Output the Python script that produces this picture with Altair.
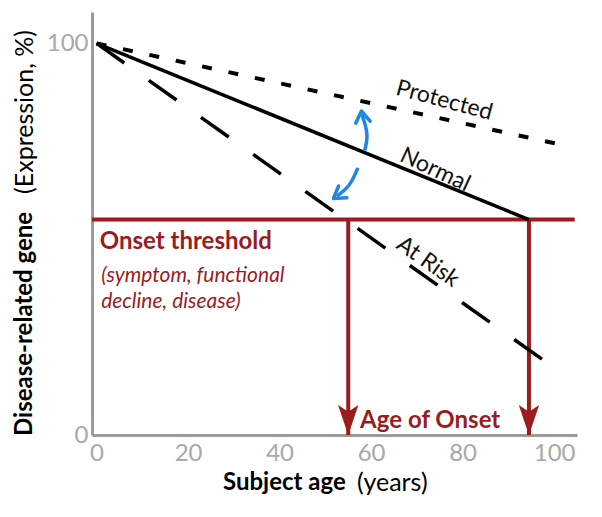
import altair as alt
import pandas as pd

# ---------------- data ----------------
x_ticks = [0, 20, 40, 60, 80, 100]
y_ticks = [0, 100]

protected_age = [0, 102]
protected_val = [100, 74]
normal_age = [0, 94.5]
normal_val = [100, 55]
atrisk_age = [0, 102]
atrisk_val = [100, 15.5]

threshold_val = 55
threshold_span = [-1, 104.5]
onset_ages = [55, 94.5]

blue_up_age = [58.6, 59.3, 58.8, 58.0]
blue_up_val = [72.6, 76.0, 79.1, 81.7]
blue_dn_age = [57.1, 55.8, 54.3, 52.5]
blue_dn_val = [68.2, 64.6, 62.5, 61.0]
blue_head_age = [58.0, 52.5]
blue_head_val = [81.7, 61.0]
blue_head_dir = [352, 235]

series_labels = ["Protected", "Normal", "At Risk"]
series_label_age = [76.0, 74.0, 72.4]
series_label_val = [85.4, 67.7, 44.2]
series_label_angle = [15, 25, 35]

threshold_lines = ["Onset threshold", "(symptom, functional", "decline, disease)"]
threshold_text_val = [49.3, 40.6, 34.0]
onset_label = "Age of Onset"
onset_label_pos = [57.6, 3.6]

# ---------------- style ----------------
RED = "#9b1c1f"
BLUE = "#1e88e0"
GREY = "#a8a8a8"
AXIS_GREY = "#9a9a9a"
FONT = "Lato"

xs = alt.Scale(domain=[-1, 105], nice=False, zero=False)
ys = alt.Scale(domain=[0, 108], nice=False, zero=False)

X_AXIS = alt.Axis(values=x_ticks, title=None, grid=False, ticks=False,
                  domainColor=AXIS_GREY, domainWidth=3, labelColor=GREY,
                  labelFontSize=24, labelFont=FONT, labelPadding=6, labelFlush=False)
Y_AXIS = alt.Axis(values=y_ticks, title=None, grid=False, ticks=False,
                  domainColor=AXIS_GREY, domainWidth=3, labelColor=GREY,
                  labelFontSize=24, labelFont=FONT, labelPadding=4, labelFlush=False)


def df(a, v):
    return pd.DataFrame({"x": a, "y": v, "i": list(range(len(a)))})


def X():
    return alt.X("x:Q", scale=xs, axis=X_AXIS)


def Y():
    return alt.Y("y:Q", scale=ys, axis=Y_AXIS)


protected = alt.Chart(df(protected_age, protected_val)).mark_line(
    color="black", strokeWidth=4, strokeDash=[10, 17]
).encode(x=X(), y=Y(), order="i:Q")

normal = alt.Chart(df(normal_age, normal_val)).mark_line(
    color="black", strokeWidth=3.5
).encode(x=X(), y=Y(), order="i:Q")

atrisk = alt.Chart(df(atrisk_age, atrisk_val)).mark_line(
    color="black", strokeWidth=3.5, strokeDash=[34, 30]
).encode(x=X(), y=Y(), order="i:Q")

thr = alt.Chart(pd.DataFrame({"x": [threshold_span[0]], "x2": [threshold_span[1]],
                              "y": [threshold_val]})).mark_rule(
    color=RED, strokeWidth=4
).encode(x=X(), x2="x2:Q", y=Y())

onset_df = pd.DataFrame({"x": onset_ages, "y": [threshold_val] * 2, "y2": [0] * 2})
vlines = alt.Chart(onset_df).mark_rule(color=RED, strokeWidth=4).encode(
    x=X(), y=Y(), y2="y2:Q")

ARROW = "M0,1 L-0.68,-1 L0,-0.55 L0.68,-1 Z"
heads = alt.Chart(pd.DataFrame({"x": onset_ages, "y": [0, 0]})).mark_point(
    shape=ARROW, size=900, filled=True, color=RED, opacity=1, yOffset=-15
).encode(x=X(), y=Y())

blue_up = alt.Chart(df(blue_up_age, blue_up_val)).mark_line(
    color=BLUE, strokeWidth=3.5, interpolate="basis"
).encode(x=X(), y=Y(), order="i:Q")
blue_dn = alt.Chart(df(blue_dn_age, blue_dn_val)).mark_line(
    color=BLUE, strokeWidth=3.5, interpolate="basis"
).encode(x=X(), y=Y(), order="i:Q")

CHEV = "M-0.9,0.9 L0,-0.5 L0.9,0.9"
blue_heads = alt.Chart(pd.DataFrame({"x": blue_head_age, "y": blue_head_val,
                                     "a": blue_head_dir})).mark_point(
    shape=CHEV, size=260, filled=False, color=BLUE, strokeWidth=3.5, opacity=1,
    strokeCap="round", strokeJoin="round"
).encode(x=X(), y=Y(), angle=alt.Angle("a:Q", scale=None))

lbl_df = pd.DataFrame({"x": series_label_age, "y": series_label_val,
                       "t": series_labels, "a": series_label_angle})
labels = alt.Chart(lbl_df).mark_text(
    font=FONT, fontSize=23, color="#111111", align="center", baseline="middle"
).encode(x=X(), y=Y(), text="t:N", angle=alt.Angle("a:Q", scale=None))

thr_title = alt.Chart(pd.DataFrame({"x": [0.7], "y": [threshold_text_val[0]],
                                    "t": [threshold_lines[0]]})).mark_text(
    font=FONT, fontSize=24, fontWeight="bold", color=RED, align="left", baseline="middle"
).encode(x=X(), y=Y(), text="t:N")

thr_sub = alt.Chart(pd.DataFrame({"x": [1.0, 1.0], "y": threshold_text_val[1:],
                                  "t": threshold_lines[1:]})).mark_text(
    font=FONT, fontSize=21, fontStyle="italic", color=RED, align="left", baseline="middle"
).encode(x=X(), y=Y(), text="t:N")

onset_txt = alt.Chart(pd.DataFrame({"x": [onset_label_pos[0]], "y": [onset_label_pos[1]],
                                    "t": [onset_label]})).mark_text(
    font=FONT, fontSize=24, fontWeight="bold", color=RED, align="left", baseline="middle"
).encode(x=X(), y=Y(), text="t:N")

# axis titles (mixed weights) as text marks placed in the margins
ytitle_b = alt.Chart(pd.DataFrame({"t": ["Disease-related gene"]})).mark_text(
    font=FONT, fontSize=24, fontWeight="bold", color="black", angle=270,
    align="left", baseline="middle"
).encode(x=alt.value(-67), y=alt.value(424), text="t:N")
ytitle_r = alt.Chart(pd.DataFrame({"t": ["(Expression, %)"]})).mark_text(
    font=FONT, fontSize=25, color="black", angle=270,
    align="right", baseline="middle"
).encode(x=alt.value(-67), y=alt.value(18), text="t:N")
xtitle_b = alt.Chart(pd.DataFrame({"t": ["Subject age"]})).mark_text(
    font=FONT, fontSize=24, fontWeight="bold", color="black",
    align="left", baseline="middle"
).encode(x=alt.value(131), y=alt.value(471), text="t:N")
xtitle_r = alt.Chart(pd.DataFrame({"t": ["(years)"]})).mark_text(
    font=FONT, fontSize=25, color="black",
    align="left", baseline="middle"
).encode(x=alt.value(265), y=alt.value(471), text="t:N")

chart = alt.layer(
    thr, vlines, heads, protected, normal, atrisk, blue_up, blue_dn, blue_heads,
    labels, thr_title, thr_sub, onset_txt, ytitle_b, ytitle_r, xtitle_b, xtitle_r
).properties(
    width=485, height=423,
    padding={"left": 84, "top": 4, "right": 17, "bottom": 74},
    autosize=alt.AutoSizeParams(type="none"),
).configure_view(stroke=None)

chart.save("out.html", embed_options={"renderer": "svg", "actions": False})
